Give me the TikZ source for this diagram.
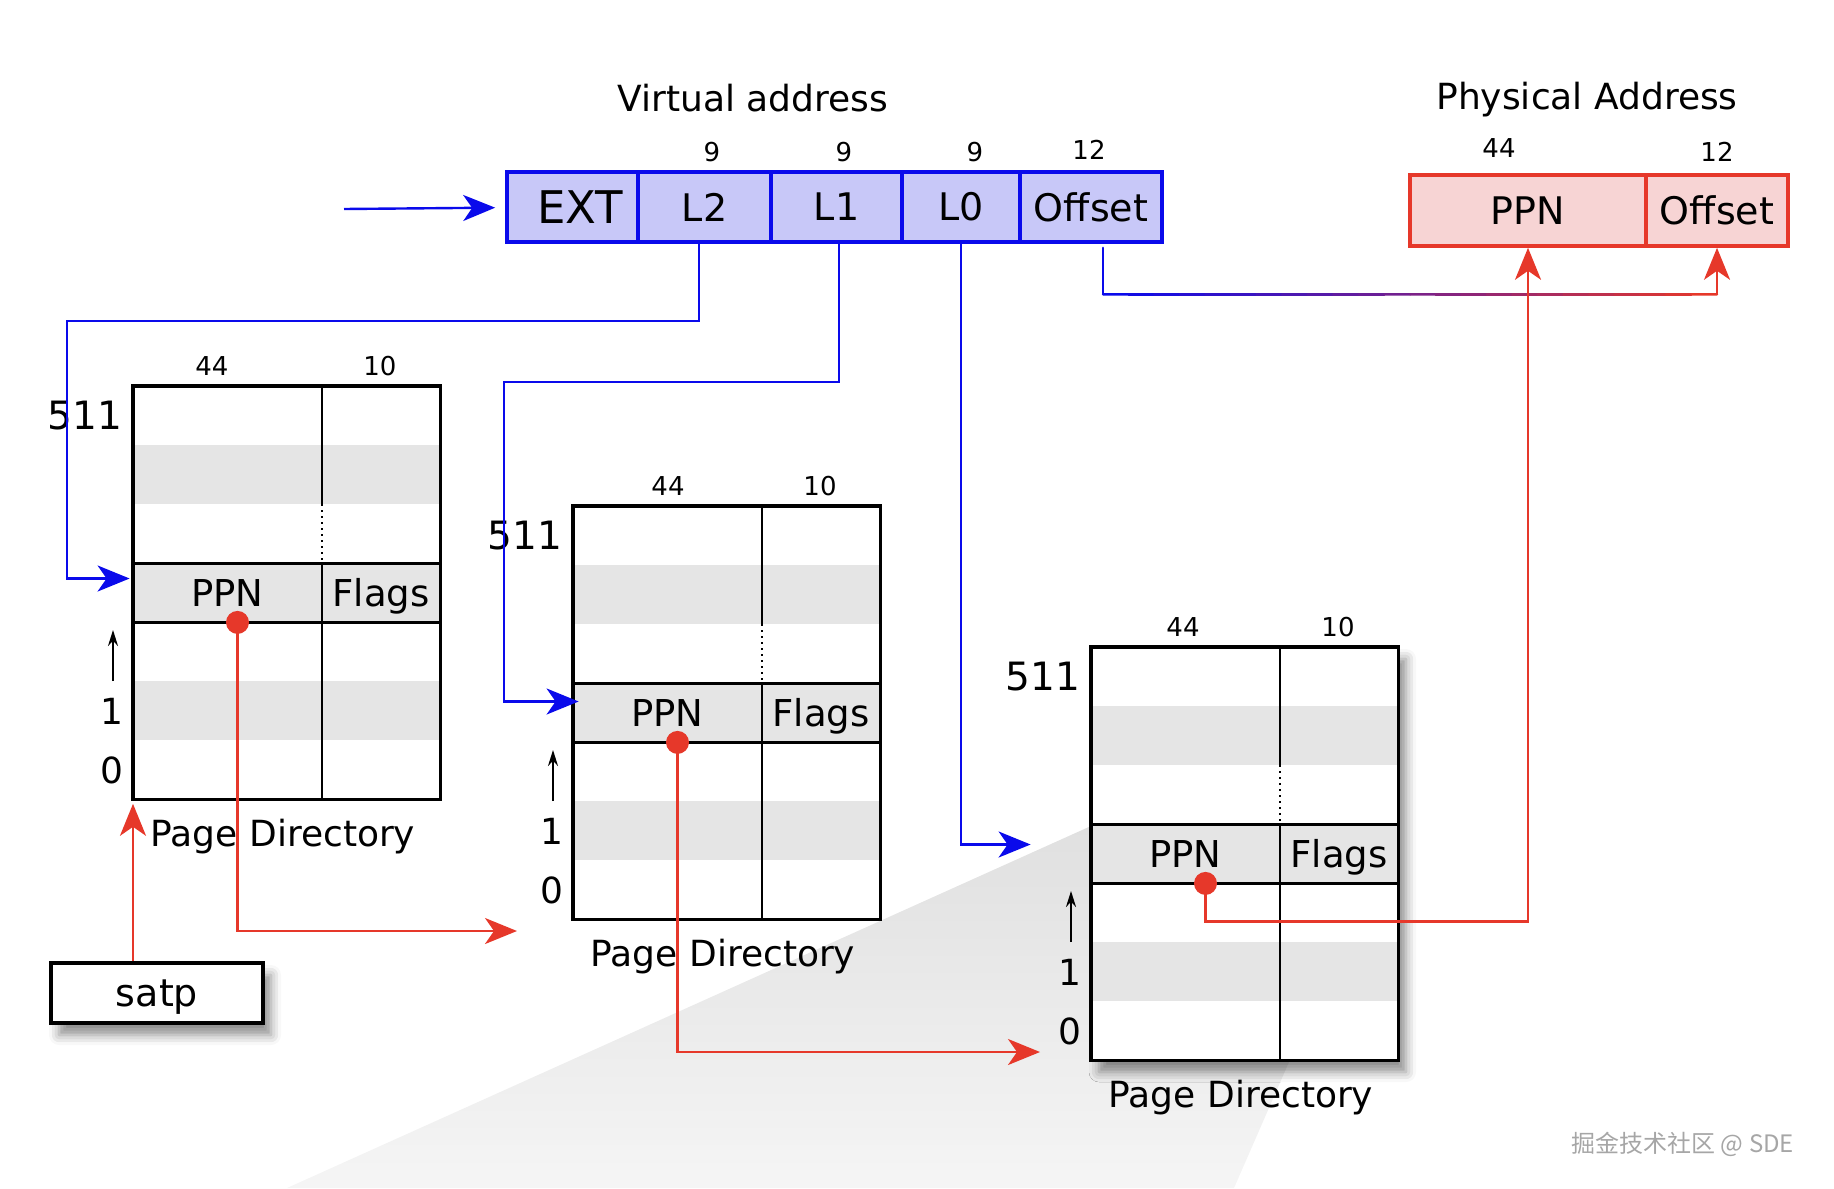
\documentclass[tikz,border=0pt]{standalone}
\usepackage{fontspec}
\setmainfont{DejaVu Sans}
\newfontfamily\cjkfont{Noto Sans CJK SC}
\usetikzlibrary{arrows.meta,calc,shadows.blur}
\definecolor{vablue}{RGB}{10,10,235}
\definecolor{vafill}{RGB}{200,200,248}
\definecolor{pared}{RGB}{230,56,42}
\definecolor{pafill}{RGB}{247,212,212}
\definecolor{stripe}{RGB}{229,229,229}
\definecolor{wedgetop}{RGB}{224,224,224}
\definecolor{wedgebot}{RGB}{245,245,245}
\newcommand\fsz[1]{\fontsize{#1}{#1}\selectfont}
\begin{document}
\begin{tikzpicture}[x=0.5pt, y=-0.5pt,
    vacell/.style={draw=vablue, line width=1.8pt, fill=vafill, minimum height=35pt, inner sep=0pt, font=\fsz{19}},
    pacell/.style={draw=pared, line width=1.8pt, fill=pafill, minimum height=35.5pt, inner sep=0pt, font=\fsz{19}},
    bits/.style={anchor=base, font=\fsz{13}},
    heading/.style={anchor=base, font=\fsz{18}},
    pdframe/.style={anchor=north west, fill=white, minimum width=153.5pt, minimum height=206.5pt, inner sep=0pt},
    pdentry/.style={fill=stripe, minimum height=29.5pt, inner sep=0pt, text height=13.5pt, text depth=0pt, font=\fsz{18.5}},
    ppndot/.style={circle, fill=pared, minimum size=11.5pt, inner sep=0pt},
    blueline/.style={vablue, line width=1.2pt, -{Stealth[length=16pt, width=13pt, inset=4.5pt]}},
    redline/.style={pared, line width=1.2pt, -{Stealth[length=16pt, width=13pt, inset=4.5pt]}},
    softshadow/.style={blur shadow={shadow xshift=4pt, shadow yshift=-6pt, shadow blur radius=5pt, shadow opacity=45}},
  ]
  \useasboundingbox (0,0) rectangle (1834,1188);

  % zoom wedge behind the last table
  \shade[top color=wedgetop, bottom color=wedgebot]
    (1091,826) -- (1392,826) -- (1234,1188) -- (287,1188) -- cycle;

  % virtual address
  \node[heading] (vatitle) at (753,112) {Virtual address};
  \node[vacell, minimum width=65.5pt, font=\fsz{22.5}, text width=50.5pt, align=right] (ext) at (572.5,207) {EXT};
  \node[vacell, minimum width=66.5pt] (l2) at (704.5,207) {L2};
  \node[vacell, minimum width=65.5pt] (l1) at (836.5,207) {L1};
  \node[vacell, minimum width=59pt] (l0) at (961,207) {L0};
  \node[vacell, minimum width=71pt] (vaoff) at (1091,207) {Offset};
  \node[bits] (bitsl2) at (712,161) {9};
  \node[bits] (bitsl1) at (844,161) {9};
  \node[bits] (bitsl0) at (975,161) {9};
  \node[bits] (bitsoff) at (1089,159) {12};

  % physical address
  \node[heading] (patitle) at (1587,110) {Physical Address};
  \node[pacell, minimum width=118pt] (pappn) at (1528,210.5) {PPN};
  \node[pacell, minimum width=71pt] (paoff) at (1717,210.5) {Offset};
  \node[bits] (bitsppn) at (1499,157) {44};
  \node[bits] (bitspaoff) at (1717,162) {12};

  % page directories
  \fill[white, softshadow] (1091,647) rectangle ++(307,413);
  \foreach \t/\lx/\ty/\nx/\dx in {1/133/386/79/5, 2/573/506/95/5, 3/1091/647/92/10} {
    \node[pdframe] (pd\t) at (\lx,\ty) {};
    \fill[stripe] (\lx,\ty+59) rectangle ++(307,59);
    \fill[stripe] (\lx,\ty+295) rectangle ++(307,59);
    \node[pdentry, minimum width=94.5pt] (ppn\t) at (\lx+94.5,\ty+206.5) {PPN};
    \node[pdentry, minimum width=59pt] (flags\t) at (\lx+248,\ty+206.5) {Flags};
    \draw[line width=1.5pt] (\lx,\ty+177) -- ++(307,0) (\lx,\ty+236) -- ++(307,0);
    \draw[line width=1pt] (\lx+189,\ty) -- ++(0,118) (\lx+189,\ty+177) -- ++(0,236);
    \draw[line width=1pt, dotted] (\lx+189,\ty+118) -- ++(0,59);
    \draw[line width=1.6pt] (pd\t.north west) rectangle (pd\t.south east);
    \node[bits] (wppn\t) at (\lx+\nx,\ty-11) {44};
    \node[bits] (wflags\t) at (\lx+247,\ty-11) {10};
    \node[font=\fsz{19.5}] (top\t) at (\lx-48,\ty+30) {511};
    \draw[line width=1pt, -{Stealth[length=8pt, width=5pt]}] (\lx-20,\ty+295) -- (\lx-20,\ty+244);
    \node[font=\fsz{18}] (one\t) at (\lx-21,\ty+325) {1};
    \node[font=\fsz{18}] (zero\t) at (\lx-21,\ty+384) {0};
    \node[heading] (name\t) at (\lx+150,\ty+460) {Page Directory};
    \node[ppndot] (dot\t) at ([xshift=\dx pt]ppn\t.south) {};
  }

  % satp register
  \node[draw, line width=1.6pt, fill=white, minimum width=106pt, minimum height=30pt,
    text depth=0pt, font=\fsz{19}, softshadow] (satp) at (157,993) {satp};

  % index lookups
  \coordinate (vin) at (344,209);
  \coordinate (l2bend) at (67,321);
  \coordinate (l1bend) at (504,382);
  \draw[blueline, shorten >=5pt] (vin) -- (ext);
  \draw[blueline, shorten >=1.5pt] ([xshift=-2.75pt]l2.south) |- (l2bend) |- ([yshift=7pt]ppn1.west);
  \draw[blueline, shorten >=-3pt] ([xshift=1.25pt]l1.south) |- (l1bend) |- ([yshift=5.5pt]ppn2.west);
  \draw[blueline, shorten >=30pt] (l0.south) |- ([yshift=4.5pt]ppn3.west);

  % offset goes straight through
  \path ([xshift=6pt]vaoff.south) ++(0,50.5) coordinate (offa);
  \path (offa -| paoff.south) coordinate (offb);
  \draw[vablue, line width=1.2pt, line cap=round] ([xshift=6pt, yshift=-2pt]vaoff.south) -- (offa);
  \foreach \i in {0,...,23} {
    \pgfmathtruncatemacro\mix{100*\i/23}
    \draw[pared!\mix!vablue, line width=1.2pt, line cap=round] ($(offa)!\i/24!(offb)$) -- ($(offa)!{(\i+1)/24}!(offb)$);
  }
  \draw[redline] (offb) -- (paoff.south);

  % next level pointers
  \coordinate (pd2in) at (517,931);
  \coordinate (pd3in) at (1040,1052);
  \draw[redline, shorten >=2pt] (satp.north -| pd1.south west) -- (pd1.south west);
  \draw[redline] (dot1.center) |- (pd2in);
  \draw[redline] (dot2.center) |- (pd3in);
  \draw[redline] (dot3.center) -- ++(0,38) -| (pappn.south);

  \node[anchor=base east, text=gray!70, font=\cjkfont\fsz{12}] (mark) at (1801,1152) {掘金技术社区 @ SDE};
\end{tikzpicture}
\end{document}
